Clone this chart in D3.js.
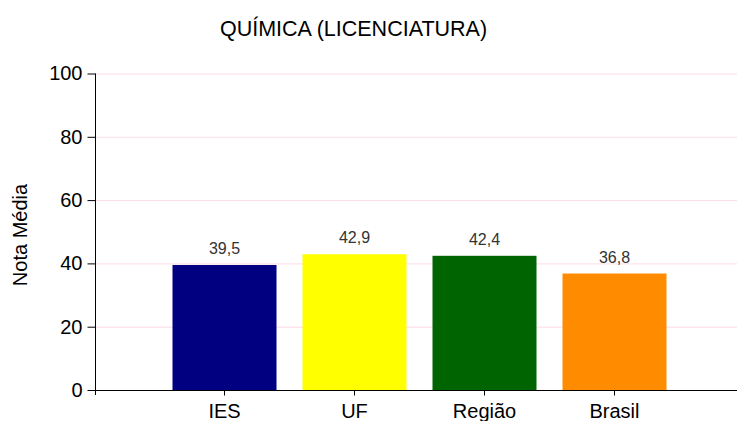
<!DOCTYPE html>
<html>
<head>
<meta charset="utf-8">
<script src="https://cdn.jsdelivr.net/npm/d3@7"></script>
<style>
  body { margin: 0; background: #fff; }
  text { font-family: "Liberation Sans", Arial, sans-serif; }
</style>
</head>
<body>
<div id="chart"></div>
<script>
// dados do gráfico
var categorias = ["IES", "UF", "Região", "Brasil"];
var notas = [39.5, 42.9, 42.4, 36.8];
var cores = ["#000080", "#ffff00", "#006400", "#ff8c00"];
var yTicks = [0, 20, 40, 60, 80, 100];

var width = 737, height = 421;
var svg = d3.select("#chart").append("svg").attr("width", width).attr("height", height);

var x0 = 95.5, yTop = 73.5, yBot = 390;

var x = d3.scaleBand().domain(categorias).range([159.5, 679.5]).paddingInner(0.2).paddingOuter(0.1);
var y = d3.scaleLinear().domain([0, 100]).range([yBot, yTop]);

// grade
svg.append("g").selectAll("line").data(yTicks.filter(function(d){ return d > 0; }))
  .enter().append("line")
  .attr("x1", x0).attr("x2", width)
  .attr("y1", function(d){ return y(d) + 0.5; }).attr("y2", function(d){ return y(d) + 0.5; })
  .attr("stroke", "#f6b8c8").attr("stroke-width", 1).attr("stroke-dasharray", "1,1");

// barras
svg.append("g").selectAll("rect").data(categorias).enter().append("rect")
  .attr("x", function(d){ return x(d); })
  .attr("y", function(d, i){ return y(notas[i]); })
  .attr("width", x.bandwidth())
  .attr("height", function(d, i){ return yBot - y(notas[i]); })
  .attr("fill", function(d, i){ return cores[i]; });

// rótulos de valor
svg.append("g").selectAll("text").data(categorias).enter().append("text")
  .attr("x", function(d){ return x(d) + x.bandwidth() / 2; })
  .attr("y", function(d, i){ return y(notas[i]) - 11; })
  .attr("text-anchor", "middle")
  .attr("font-size", 16).attr("fill", "#333")
  .text(function(d, i){ return String(notas[i]).replace(".", ","); });

// eixo y
var yAxis = d3.axisLeft(y).tickValues(yTicks).tickSize(8).tickPadding(5);
var gy = svg.append("g").attr("transform", "translate(" + x0 + ",0)").call(yAxis);
gy.select(".domain").attr("d", "M0," + yTop + "V" + (yBot + 5));
gy.selectAll("text").attr("font-size", 20).attr("fill", "#000").style("font-family", "Liberation Sans, Arial, sans-serif");
gy.selectAll("line,path").attr("stroke", "#000");

// eixo x
var xAxis = d3.axisBottom(x).tickSize(5).tickPadding(8);
var gx = svg.append("g").attr("transform", "translate(0," + (yBot + 0.5) + ")").call(xAxis);
gx.select(".domain").attr("d", "M" + (x0 - 3) + ",0H" + width);
gx.selectAll("text").attr("font-size", 20).attr("fill", "#000").style("font-family", "Liberation Sans, Arial, sans-serif");
gx.selectAll("line,path").attr("stroke", "#000");

// título
svg.append("text").attr("x", 353.5).attr("y", 36).attr("text-anchor", "middle")
  .attr("font-size", 21.5).attr("fill", "#000").text("QUÍMICA (LICENCIATURA)");

// rótulo eixo y
svg.append("text").attr("transform", "translate(27," + 235 + ") rotate(-90)")
  .attr("text-anchor", "middle").attr("font-size", 20).attr("fill", "#000").text("Nota Média");
</script>
</body>
</html>
